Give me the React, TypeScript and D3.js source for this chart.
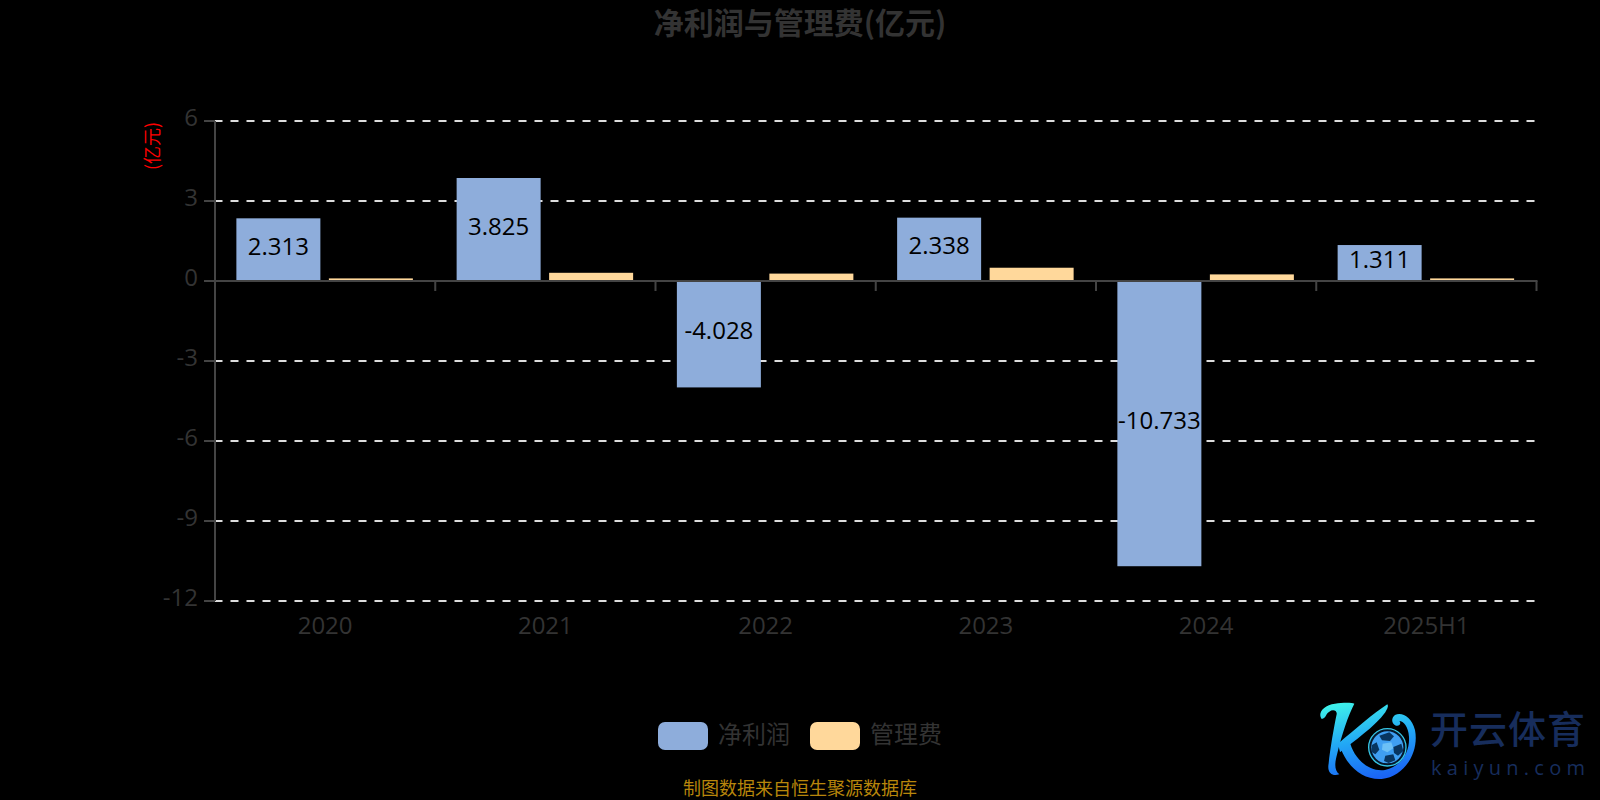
import React from "react";
import * as d3 from "d3";

const categories = ["2020", "2021", "2022", "2023", "2024", "2025H1"];
const netProfit = [2.313, 3.825, -4.028, 2.338, -10.733, 1.311];
const adminFee = [0.06, 0.27, 0.24, 0.46, 0.21, 0.06];
const yTicks = [6, 3, 0, -3, -6, -9, -12];
const seriesNames = ["净利润", "管理费"];
const title = "净利润与管理费(亿元)";
const unit = "(亿元)";
const source = "制图数据来自恒生聚源数据库";

const CJK = '"Noto Sans CJK SC", sans-serif';
const LATIN = '"Open Sans", "Noto Sans CJK SC", sans-serif';
const BLUE = "#8eaddb";
const ORANGE = "#ffd89b";
const AXIS = "#444444";
const TEXT = "#333333";

const x = d3.scaleBand<string>().domain(categories).range([215, 1536.5]);
const y = d3.scaleLinear().domain([-12, 6]).range([601, 121]);
const yBar = d3.scaleLinear().domain([-12, 6]).range([600, 120]);
const BAR_W = 84;
const GAP = 8.5;

export default function App() {
  const zero = y(0);
  const barZero = yBar(0);
  const bw = x.bandwidth();
  return (
    <svg
      width={1600}
      height={800}
      style={{ position: "fixed", left: 0, top: 0, display: "block", background: "#000" }}
    >
      <text x={800} y={34} textAnchor="middle" fontFamily={CJK} fontSize={30} fontWeight={700} fill={TEXT}>
        {title}
      </text>

      <text
        transform="translate(158.5,146) rotate(-90)"
        textAnchor="middle"
        fontFamily={CJK}
        fontSize={18}
        fill="#ff0000"
      >
        {unit}
      </text>

      {yTicks.map((t) => (
        <g key={t}>
          {t !== 0 && (
            <line x1={214.5} x2={1536.5} y1={y(t)} y2={y(t)} stroke="#dddddd" strokeWidth={2} strokeDasharray="8 8" />
          )}
          <line x1={204} x2={215} y1={y(t)} y2={y(t)} stroke={AXIS} strokeWidth={2} />
          <text x={198} y={y(t) - 3.5} dy="0.36em" textAnchor="end" fontFamily={LATIN} fontSize={24} fill={TEXT}>
            {t}
          </text>
        </g>
      ))}

      {categories.map((c, i) => {
        const center = (x(c) as number) + bw / 2;
        const x1 = center - GAP / 2 - BAR_W - 0.5;
        const x2 = center + GAP / 2 - 0.5;
        const vy = yBar(netProfit[i]);
        const fy = yBar(adminFee[i]);
        return (
          <g key={c}>
            <rect x={x1} width={BAR_W} y={Math.min(vy, barZero)} height={Math.abs(vy - barZero)} fill={BLUE} />
            <rect x={x2} width={BAR_W} y={Math.min(fy, barZero)} height={Math.abs(fy - barZero)} fill={ORANGE} />
          </g>
        );
      })}

      <line x1={215} x2={215} y1={121} y2={601} stroke={AXIS} strokeWidth={2} />
      <line x1={214} x2={1537.5} y1={zero} y2={zero} stroke={AXIS} strokeWidth={2} />
      {[...categories.map((c) => x(c) as number), 1536.5].map((t) => (
        <line key={t} x1={t} x2={t} y1={zero} y2={zero + 10} stroke={AXIS} strokeWidth={2} />
      ))}

      {categories.map((c, i) => {
        const center = (x(c) as number) + bw / 2;
        const vy = yBar(netProfit[i]);
        return (
          <g key={c}>
            <text
              x={center - GAP / 2 - BAR_W / 2 - 0.5}
              y={(vy + barZero) / 2 - 3}
              dy="0.36em"
              textAnchor="middle"
              fontFamily={LATIN}
              fontSize={24}
              fill="#000000"
            >
              {netProfit[i]}
            </text>
            <text x={center} y={634} textAnchor="middle" fontFamily={LATIN} fontSize={24} fill={TEXT}>
              {c}
            </text>
          </g>
        );
      })}

      <rect x={658} y={722} width={50} height={28} rx={7} fill={BLUE} />
      <text x={718} y={743} fontFamily={CJK} fontSize={24} fill={TEXT}>
        {seriesNames[0]}
      </text>
      <rect x={810} y={722} width={50} height={28} rx={7} fill={ORANGE} />
      <text x={870} y={743} fontFamily={CJK} fontSize={24} fill={TEXT}>
        {seriesNames[1]}
      </text>

      <text x={800} y={795} textAnchor="middle" fontFamily={CJK} fontSize={18} fill="#b8860b">
        {source}
      </text>

      <defs>
        <linearGradient id="kgrad" gradientUnits="userSpaceOnUse" x1="120" y1="20" x2="170" y2="255">
          <stop offset="0" stopColor="#3ef0ea" />
          <stop offset="0.5" stopColor="#22a8f5" />
          <stop offset="1" stopColor="#1a64f5" />
        </linearGradient>
      </defs>
      <g transform="translate(1310,695) scale(0.3333)">
        <path
          d="M35 72 C22 55 40 30 75 26 C95 23 125 22 133 26 C115 60 95 120 82 175 C74 205 72 225 88 238 C68 245 50 235 56 205 C60 165 72 95 80 58 C82 46 68 42 58 50 C45 58 50 68 35 72 Z"
          fill="url(#kgrad)"
        />
        <path d="M232 28 C190 55 140 100 84 146 L90 172 C130 140 195 95 226 52 C233 40 236 33 232 28 Z" fill="url(#kgrad)" />
        <path
          d="M92 160 L118 135 C130 190 175 232 225 225 C270 215 300 175 297 125 C295 95 280 78 268 78 C275 85 268 95 258 92 C245 88 242 70 255 60 C275 50 305 65 315 105 C328 170 285 245 215 252 C160 256 112 215 92 160 Z"
          fill="url(#kgrad)"
        />
        <circle cx={232} cy={157} r={56} fill="#04182c" stroke="#36c5e4" strokeWidth={4} />
        <circle cx={232} cy={157} r={48} fill="#3f9ff2" />
        <polygon points="208,122 238,112 252,124 240,138 216,136" fill="#08355f" />
        <polygon points="186,150 200,142 208,164 196,178 184,170" fill="#08355f" />
        <polygon points="250,156 274,146 280,168 264,182 252,174" fill="#08355f" />
        <polygon points="226,182 250,178 256,196 236,204 222,198" fill="#08355f" />
        <polygon points="218,146 244,142 250,160 232,172 216,164" fill="#6cc0f7" />
      </g>
      <text x={1430} y={743} fontFamily={CJK} fontSize={38} fontWeight={500} fill="#172d5c" textLength={155}>
        开云体育
      </text>
      <text x={1431} y={775} fontFamily={LATIN} fontSize={20} fill="#172d5c" textLength={154}>
        kaiyun.com
      </text>
    </svg>
  );
}
